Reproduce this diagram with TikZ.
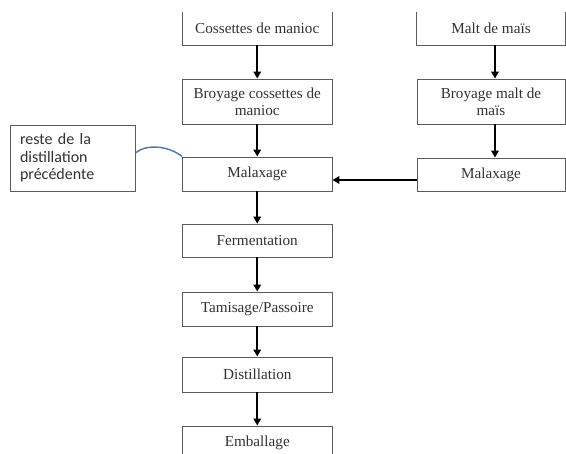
\documentclass[tikz,border=0pt]{standalone}
\usepackage{fontspec}
\setmainfont{Liberation Serif}
\newfontfamily\calib{Carlito}
\usetikzlibrary{arrows.meta}
\definecolor{boxgray}{RGB}{90,90,90}
\definecolor{txtgray}{RGB}{50,50,50}
\definecolor{curveblue}{RGB}{70,120,175}
\begin{document}
\begin{tikzpicture}[x=1pt,y=-1pt,
 box/.style={draw=boxgray, text=txtgray, line width=0.9pt, minimum width=149.5pt, inner sep=0pt, align=center, font=\fontsize{15.2}{17}\selectfont},
 openbox/.style={box, draw=none},
 boxline/.style={draw=boxgray, line width=0.9pt},
 flow/.style={line width=2.1pt, -{Triangle[width=7.5pt,length=7pt]}},
 sidebox/.style={draw=boxgray, text=txtgray, line width=0.9pt, minimum width=125pt, minimum height=66pt, inner xsep=10pt, inner ysep=0pt, align=left, text width=105pt, font=\calib\fontsize{16}{17.5}\selectfont}]
\useasboundingbox (0,0) rectangle (566,454);
% left column
\node[openbox, minimum height=32.5pt] (c1) at (257.25,28.75) {Cossettes de manioc};
\draw[boxline] (c1.north west) -- (c1.south west) -- (c1.south east) -- (c1.north east);
\node[box, minimum height=45pt] (c2) at (257.25,101.5) {Broyage cossettes de\\manioc};
\node[box, minimum height=34pt] (c3) at (257.25,174) {Malaxage};
\node[box, minimum height=33pt] (c4) at (257.25,240.5) {Fermentation};
\node[box, minimum height=34pt] (c5) at (257.25,309) {Tamisage/Passoire};
\node[box, minimum height=35pt] (c6) at (257.25,374.5) {Distillation};
\node[box, minimum height=33pt] (c7) at (257.25,442.5) {Emballage};
% right column
\node[openbox, minimum width=148pt, minimum height=32.5pt] (m1) at (491,28.75) {Malt de maïs};
\draw[boxline] (m1.north west) -- (m1.south west) -- (m1.south east) -- (m1.north east);
\node[box, minimum width=148pt, minimum height=45pt] (m2) at (491,101.5) {Broyage malt de\\maïs};
\node[box, minimum width=148pt, minimum height=33pt] (m3) at (491,174.5) {Malaxage};
% side box
\node[sidebox] (r) at (72.5,158) {reste de la\\distillation\\précédente};
% arrows
\draw[flow] (c1) -- (c2);
\draw[flow] (c2) -- (c3);
\draw[flow] (c3) -- (c4);
\draw[flow] (c4) -- (c5);
\draw[flow] (c5) -- (c6);
\draw[flow] (c6) -- (c7);
\draw[flow] ([xshift=4pt]m1.south) -- ([xshift=4pt]m2.north);
\draw[flow] ([xshift=4pt]m2.south) -- ([xshift=4pt]m3.north);
\draw[flow] ([yshift=-5.5pt]m3.west) -- ([yshift=-5.5pt]m3.west -| c3.east);
% curve
\draw[curveblue, line width=1.4pt] ([yshift=5pt]r.east) .. controls +(12,-10) and +(-12,-10) .. (c3.north west);
\end{tikzpicture}
\end{document}
